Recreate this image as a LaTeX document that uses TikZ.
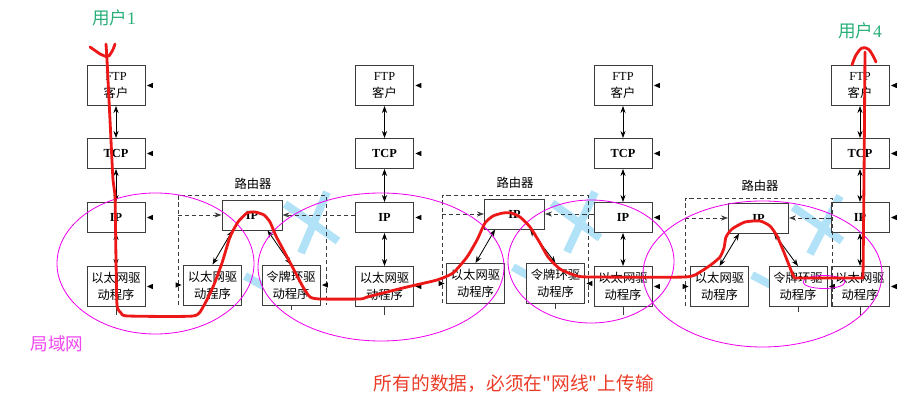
\documentclass[tikz,border=0pt]{standalone}
\usepackage{fontspec}
\setmainfont{Liberation Serif}
\newfontfamily\cjk{Noto Sans CJK SC}
\usetikzlibrary{arrows.meta,calc}
\definecolor{redpen}{RGB}{236,24,24}
\definecolor{mag}{RGB}{240,0,240}
\definecolor{skyb}{RGB}{178,226,248}
\definecolor{usergreen}{RGB}{40,175,120}
\definecolor{lanmag}{RGB}{240,70,240}
\definecolor{notered}{RGB}{235,60,40}
\definecolor{boxline}{RGB}{60,60,60}
\begin{document}
\begin{tikzpicture}[x=0.03cm,y=-0.03cm,
  hbox/.style={draw=boxline, fill=white, line width=0.8pt, inner sep=0pt, align=center,
    font=\fontsize{10.5}{14.5}\selectfont, minimum width=58*0.03cm},
  cjkbox/.style={hbox, font=\fontsize{10.5}{14.5}\selectfont\cjk},
  hgtforty/.style={minimum height=40*0.03cm},
  hgtthirty/.style={minimum height=30*0.03cm},
  link/.style={{Stealth[length=6pt,width=4.4pt]}-{Stealth[length=6pt,width=4.4pt]}, line width=0.7pt, black},
  dline/.style={draw=boxline, line width=0.8pt, dash pattern=on 3.5pt off 2.5pt},
  intoarrow/.style={-{Stealth[length=6pt,width=4.4pt]}},
  band/.style={skyb, line width=6.8pt},
  ell/.style={mag, line width=0.7pt},
  pen/.style={redpen, line width=2.4pt, line cap=round, line join=round},
  rlabel/.style={font=\fontsize{10.5}{12}\selectfont\cjk},
]
\useasboundingbox (0,0) rectangle (922,402);

% light blue marks (under boxes)
\draw[band] (285,204) -- (338,241);
\draw[band] (327,192) -- (301,253);
\draw[band] (245,276) -- (282,296);
\draw[band] (552,203) -- (600,238);
\draw[band] (595,192) -- (567,252);
\draw[band] (513,267) -- (545,285);
\draw[band] (793,207) -- (842,241);
\draw[band] (840,196) -- (810,254);
\draw[band] (752,275) -- (790,295);

% hosts
\foreach \h/\x in {h1/116, h2/384.5, h3/623, h4/860} {
  \node[hbox,hgtforty] (\h ftp) at (\x,85.5) {FTP\\{\cjk 客户}};
  \node[hbox,hgtthirty] (\h tcp) at (\x,153.5) {\bfseries TCP};
  \node[hbox,hgtthirty] (\h ip) at (\x,217.5) {\bfseries IP};
  \node[cjkbox,hgtforty] (\h eth) at (\x,286.5) {以太网驱\\动程序};
  \draw[link] (\h ftp.south) -- (\h tcp.north);
  \draw[link] (\h tcp.south) -- (\h ip.north);
  \draw[link] (\h ip.south) -- (\h eth.north);
  \draw[boxline, line width=0.8pt] (\h eth.south) -- ++(0,8);
  \foreach \b in {ftp,tcp,ip,eth}
    \fill[black] (\h\b.east) ++(1.5,0) -- ++(6,-2.7) -- ++(0,5.4) -- cycle;
}

% routers
\foreach \r/\ix/\iy/\ex/\tx/\dy/\L/\R/\T/\B/\lx/\ly/\nh in {
   r1/252/215/212.5/291/285/178/326/195/305/253/184/h2,
   r2/514.5/214/475.5/555.5/283.5/442/588/195/303/515/183/h3,
   r3/758.5/218/719.5/798/286.5/685/832/198/306/760/186/h4} {
  \node[hbox,hgtthirty,minimum width=60*0.03cm] (\r ip) at (\ix,\iy) {\bfseries IP};
  \node[cjkbox,hgtforty] (\r eth) at (\ex,\dy) {以太网驱\\动程序};
  \node[cjkbox,hgtforty] (\r tr) at (\tx,\dy) {令牌环驱\\动程序};
  \node[rlabel] (\r lbl) at (\lx,\ly) {路由器};
  \draw[dline] (\L,\B) -- (\L,\T) -- (\R,\T) -- (\R,\B);
  \draw[dline,intoarrow] (\L,\iy) -- (\r ip.west);
  \draw[dline,intoarrow] (\nh ip.west |- \r ip.east) -- (\r ip.east);
  \draw[link] ($(\r ip.south west)+(11,0)$) -- (\r eth.north);
  \draw[link] ($(\r ip.south west)+(46,0)$) -- (\r tr.north);
  \draw[boxline, line width=0.8pt] (\r tr.south) -- ++(0,5);
  \fill[black] (\r eth.west) ++(-1.5,0) -- ++(-6,-2.7) -- ++(0,5.4) -- cycle;
  \fill[black] (\r tr.east) ++(1.5,0) -- ++(6,-2.7) -- ++(0,5.4) -- cycle;
}

% magenta ellipses
\draw[ell] (155.5,263.5) ellipse [x radius=98.5, y radius=70.5];
\draw[ell] (381,267) ellipse [x radius=123, y radius=74];
\draw[ell] (591,261.5) ellipse [x radius=83, y radius=61.5];
\draw[ell] (762.5,274) ellipse [x radius=119.5, y radius=73];
\draw[ell] (824,282) ellipse [x radius=21, y radius=6.5];

% red hand-drawn path
\draw[pen] (90,47) -- (100,54) -- (107,57);
\draw[pen] (115,44) .. controls (113,50) .. (109,56);
\draw[pen] plot[smooth, tension=0.35] coordinates {
 (106,44) (107,60) (110,120) (113,180) (115,195) (116,260) (117,305) (121,313) (128,316)
 (193,316) (203,307) (213,287) (222,263) (230,237) (238,222) (247,213) (255,212) (264,215)
 (270,222) (276,236) (285,253) (294,270) (303,287) (310,297) (320,299)
 (360,299) (367,297) (383,293) (407,287) (437,280) (453,273) (467,257) (477,240) (485,223)
 (493,216) (503,213) (511,213) (520,217) (530,227) (540,243) (548,257) (560,269) (577,276)
 (592,277) (685,277) (700,272) (712,264) (720,257) (724,248) (726,237) (732,229) (745,222)
 (760,221) (770,226) (777,236) (783,250) (789,265) (794,277) (800,278) (863,278)};
\draw[pen] (863,278) -- (864,180) -- (865,52);
\draw[pen] plot[smooth, tension=0.6] coordinates {(852,65) (856,55) (862,48) (868,49) (872,54) (876,62)};

% labels
\node[font=\fontsize{15}{17}\selectfont, text=usergreen] (u1) at (114,18) {{\cjk 用户}1};
\node[font=\fontsize{15}{17}\selectfont, text=usergreen] (u4) at (860,31) {{\cjk 用户}4};
\node[font=\fontsize{15}{17}\selectfont\cjk, text=lanmag] (lan) at (57,344) {局域网};
\node[font=\fontsize{16}{18}\selectfont\cjk, text=notered] (note) at (514,384) {所有的数据，必须在"网线"上传输};
\end{tikzpicture}
\end{document}
